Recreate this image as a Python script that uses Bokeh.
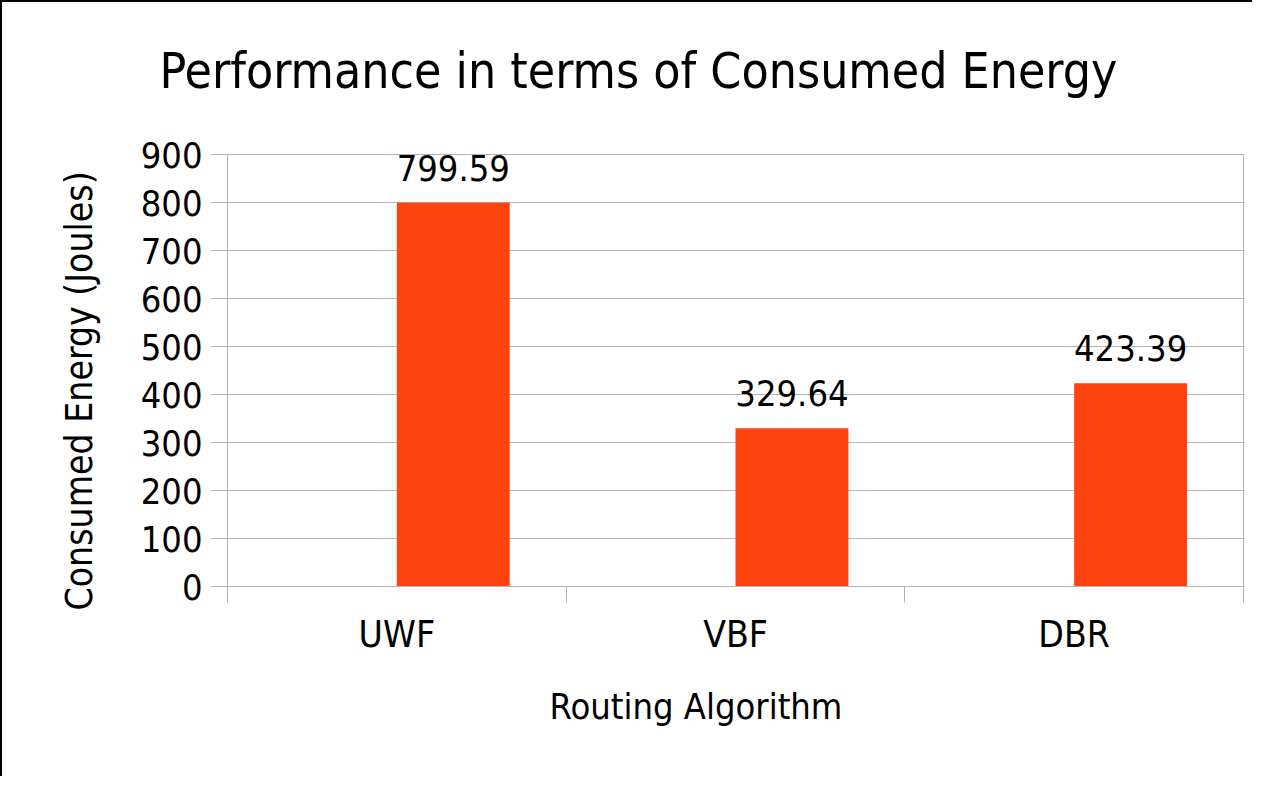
from bokeh.plotting import figure
from bokeh.models import FixedTicker, Range1d, Title, ColumnDataSource
from bokeh.core.properties import value
from bokeh.embed import file_html
from bokeh.resources import INLINE

categories = ["UWF", "VBF", "DBR"]
energy = [799.59, 329.64, 423.39]
labels = ["799.59", "329.64", "423.39"]
y_ticks = [0, 100, 200, 300, 400, 500, 600, 700, 800, 900]

FONT = "DejaVu Sans Condensed"
GRAY = "#b3b3b3"
BAR = "#ff420e"
BW = 1.0 / 3.0

centers = [i + 0.5 for i in range(len(categories))]
src = ColumnDataSource(dict(
    x=[c + BW / 2 for c in centers],
    top=energy,
    lab=labels,
))

p = figure(width=1252, height=776, output_backend="svg", toolbar_location=None,
           x_range=Range1d(0, 3), y_range=Range1d(0, 900),
           min_border_left=225, min_border_top=152, min_border_right=11, min_border_bottom=192,
           background_fill_color="white", border_fill_color="white")
p.styles = {"border-left": "2px solid black", "border-top": "2px solid black"}

p.vbar(x="x", top="top", width=BW, source=src, color=BAR, line_color=None)
p.text(x="x", y="top", text="lab", source=src, text_align="center", text_baseline="alphabetic",
       y_offset=-35, text_font=value(FONT), text_font_size="36px", text_color="black")

# axes
p.xaxis.ticker = FixedTicker(ticks=centers, minor_ticks=[0, 1, 2, 3])
p.xaxis.major_label_overrides = {c: n for c, n in zip(centers, categories)}
p.xaxis.major_tick_out = 0
p.xaxis.major_tick_in = 0
p.xaxis.minor_tick_out = 16
p.xaxis.minor_tick_in = 0
p.xaxis.minor_tick_line_color = GRAY
p.xaxis.axis_line_color = GRAY
p.xaxis.major_label_standoff = 10
p.xaxis.major_label_text_font = FONT
p.xaxis.major_label_text_font_size = "37px"
p.xaxis.major_label_text_color = "black"

p.yaxis.ticker = FixedTicker(ticks=y_ticks)
p.yaxis.major_tick_out = 17
p.yaxis.major_tick_in = 0
p.yaxis.minor_tick_line_color = None
p.yaxis.major_tick_line_color = GRAY
p.yaxis.axis_line_color = GRAY
p.yaxis.major_label_standoff = 8
p.yaxis.major_label_text_font = FONT
p.yaxis.major_label_text_font_size = "36px"
p.yaxis.major_label_text_color = "black"

p.xgrid.grid_line_color = None
p.ygrid.grid_line_color = GRAY
p.outline_line_color = GRAY

p.title = Title(text="Performance in terms of Consumed Energy", align="left", offset=-68,
                text_font=FONT, text_font_size="49.5px", text_font_style="normal",
                text_color="black", standoff=10)
p.title_location = "above"

# spacer between title and plot area
p.add_layout(Title(text=" ", text_font_size="10px", standoff=37), "above")

yt = Title(text="Consumed Energy (Joules)", align="left", offset=-24,
           text_font=FONT, text_font_size="37px", text_font_style="normal",
           text_color="black", standoff=74)
p.add_layout(yt, "left")

xt = Title(text="Routing Algorithm", align="left", offset=322,
           text_font=FONT, text_font_size="36px", text_font_style="normal",
           text_color="black", standoff=50)
p.add_layout(xt, "below")

open("out.html", "w").write(file_html(p, INLINE))
